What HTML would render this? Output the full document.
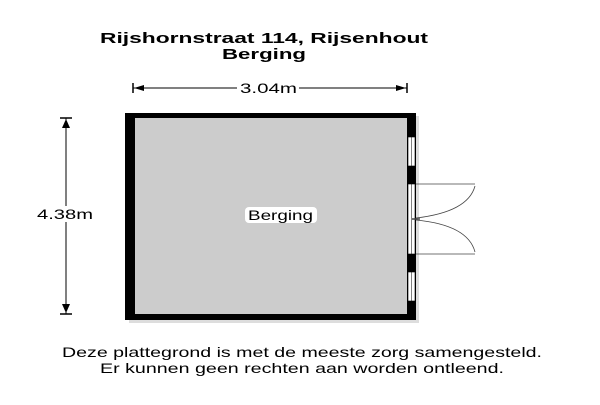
<!DOCTYPE html>
<html><head><style>body{margin:0;background:#fff}</style></head><body>
<svg width="600" height="400" xmlns="http://www.w3.org/2000/svg" font-family="Liberation Sans, sans-serif">
<rect width="600" height="400" fill="#fff"/>
<text x="100" y="43" font-size="15" font-weight="bold" textLength="328" lengthAdjust="spacingAndGlyphs">Rijshornstraat 114, Rijsenhout</text>
<text x="222" y="59" font-size="15" font-weight="bold" textLength="84" lengthAdjust="spacingAndGlyphs">Berging</text>
<!-- horizontal dim -->
<line x1="133" y1="88" x2="407" y2="88" stroke="#000" stroke-width="1"/>
<rect x="237" y="80" width="62" height="14" fill="#fff"/>
<text x="240" y="93" font-size="14" textLength="57" lengthAdjust="spacingAndGlyphs">3.04m</text>
<line x1="133" y1="83" x2="133" y2="93" stroke="#000" stroke-width="1.5"/>
<line x1="407" y1="83" x2="407" y2="93" stroke="#000" stroke-width="1.5"/>
<polygon points="134,88 144,85 144,91" fill="#000"/>
<polygon points="406,88 396,85 396,91" fill="#000"/>
<!-- vertical dim -->
<line x1="66" y1="118" x2="66" y2="314" stroke="#000" stroke-width="1"/>
<line x1="60" y1="118" x2="72" y2="118" stroke="#000" stroke-width="1.5"/>
<line x1="60" y1="314" x2="72" y2="314" stroke="#000" stroke-width="1.5"/>
<polygon points="66,119 62,128 70,128" fill="#000"/>
<polygon points="66,313 62,304 70,304" fill="#000"/>
<rect x="35" y="206" width="60" height="16" fill="#fff"/>
<text x="37" y="219" font-size="14" textLength="56" lengthAdjust="spacingAndGlyphs">4.38m</text>
<!-- room -->
<rect x="129" y="116" width="290" height="207" fill="#bbb" opacity="0.5"/>
<rect x="125" y="113" width="291" height="207" fill="#000"/>
<rect x="135" y="118" width="272" height="196" fill="#cccccc"/>
<!-- windows -->
<g fill="#fff" stroke="#000" stroke-width="0.6">
<rect x="408" y="137" width="7" height="29"/>
<rect x="408" y="184" width="7" height="70"/>
<rect x="408" y="272" width="7" height="29"/>
</g>
<g stroke="#000" stroke-width="0.5">
<line x1="411.5" y1="137" x2="411.5" y2="166"/>
<line x1="411.5" y1="184" x2="411.5" y2="254"/>
<line x1="411.5" y1="272" x2="411.5" y2="301"/>
</g>
<!-- doors -->
<g fill="none" stroke="#444" stroke-width="0.8">
<line x1="416" y1="184" x2="475" y2="184"/>
<line x1="416" y1="254" x2="475" y2="254"/>
<path d="M475,186 Q468,212 416,218"/>
<path d="M475,252 Q468,225 416,220"/>
<line x1="412" y1="219" x2="420" y2="219" stroke-width="1.5"/>
</g>
<rect x="245" y="207" width="72" height="16" fill="#fff" rx="4"/>
<text x="248" y="220" font-size="14" textLength="65" lengthAdjust="spacingAndGlyphs">Berging</text>
<text x="62" y="357" font-size="14" textLength="480" lengthAdjust="spacingAndGlyphs">Deze plattegrond is met de meeste zorg samengesteld.</text>
<text x="100" y="373" font-size="14" textLength="404" lengthAdjust="spacingAndGlyphs">Er kunnen geen rechten aan worden ontleend.</text>
</svg>
</body></html>
